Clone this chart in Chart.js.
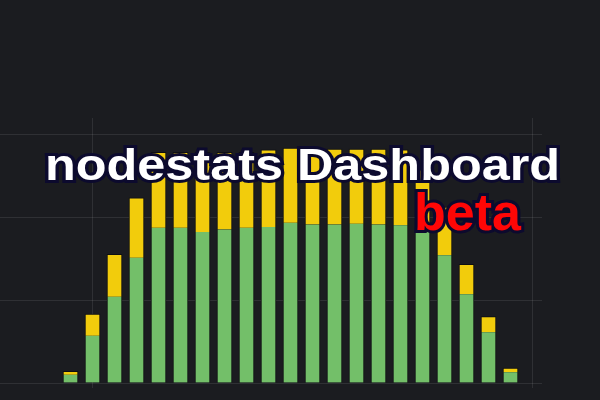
<!DOCTYPE html>
<html>
<head>
<meta charset="utf-8">
<script src="https://cdn.jsdelivr.net/npm/chart.js@4/dist/chart.umd.min.js"></script>
<style>
  html, body { margin: 0; padding: 0; background: #1b1c20; }
  #wrap { position: relative; width: 600px; height: 400px; overflow: hidden; }
  #c { position: absolute; left: 0; top: 0; }
  .txt {
    position: absolute;
    font-family: "Liberation Sans", Arial, sans-serif;
    font-weight: bold;
    line-height: 1;
    white-space: nowrap;
    -webkit-text-stroke: 6px #0c0a2e;
    paint-order: stroke fill;
  }
  #title { left: 45px; top: 143px; font-size: 44px; color: #ffffff; transform: scaleX(1.145); transform-origin: left top; }
  #beta { left: 414px; top: 186px; font-size: 52px; color: #ff0606; }
</style>
</head>
<body>
<div id="wrap">
  <canvas id="c" width="600" height="400"></canvas>
  <div class="txt" id="title">nodestats Dashboard</div>
  <div class="txt" id="beta">beta</div>
</div>
<script>
// hour of day for each bar
const hours = [3, 4, 5, 6, 7, 8, 9, 10, 11, 12, 13, 14, 15, 16, 17, 18, 19, 20, 21, 22, 23];
const greenValues  = [10, 57, 104, 151, 187, 187, 182, 185, 187, 188, 193, 191, 191, 192, 191, 190, 185, 154, 107, 61, 13];
const yellowValues = [4, 26, 51, 72, 91, 91, 96, 93, 91, 93, 90, 91, 91, 90, 91, 91, 72, 58, 36, 19, 5];
const xGridTicks = [4, 24];
const yGridTicks = [0, 100, 200, 300];

const gridColor = 'rgba(255,255,255,0.09)';
const barEdge = '#0e0f12';

const ctx = document.getElementById('c').getContext('2d');
new Chart(ctx, {
  type: 'bar',
  data: {
    datasets: [{
      label: 'green',
      data: hours.map((h, i) => ({ x: h, y: greenValues[i] })),
      backgroundColor: '#73bf69',
      borderColor: barEdge,
      borderWidth: { left: 1, right: 1, top: 0, bottom: 0 },
      borderSkipped: false,
      barThickness: 15
    }, {
      label: 'yellow',
      data: hours.map((h, i) => ({ x: h, y: yellowValues[i] })),
      backgroundColor: '#f2cc0c',
      borderColor: barEdge,
      borderWidth: { left: 1, right: 1, top: 1, bottom: 0 },
      borderSkipped: false,
      barThickness: 15
    }]
  },
  options: {
    responsive: false,
    devicePixelRatio: 1,
    animation: false,
    layout: { padding: { left: 0, right: 58, top: 118, bottom: 12 } },
    plugins: { legend: { display: false }, tooltip: { enabled: false }, title: { display: false } },
    scales: {
      x: {
        type: 'linear',
        stacked: true,
        offset: false,
        min: -0.205,
        max: 24.432,
        afterBuildTicks: axis => { axis.ticks = xGridTicks.map(v => ({ value: v })); },
        grid: { color: gridColor, tickLength: 5, drawTicks: true, offset: false },
        border: { display: false },
        ticks: { display: false }
      },
      y: {
        stacked: true,
        min: 0,
        max: 319.3,
        afterBuildTicks: axis => { axis.ticks = yGridTicks.map(v => ({ value: v })); },
        grid: { color: gridColor, drawTicks: false },
        border: { display: false },
        ticks: { display: false }
      }
    }
  }
});
</script>
</body>
</html>
